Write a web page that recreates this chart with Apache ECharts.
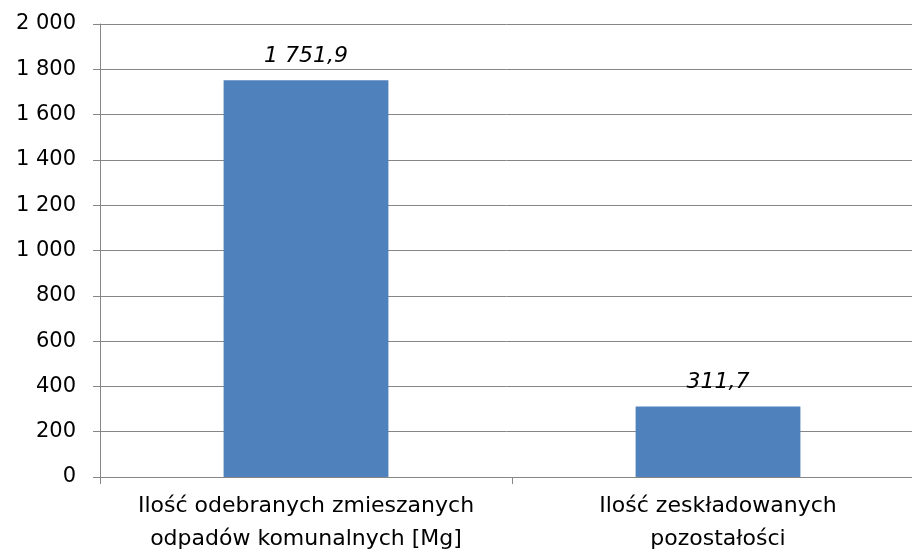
<!DOCTYPE html>
<html>
<head>
<meta charset="utf-8">
<script src="https://cdn.jsdelivr.net/npm/echarts@6/dist/echarts.min.js"></script>
<style>
	html, body { margin: 0; padding: 0; background: #fff; }
	#chart { width: 912px; height: 551px; }
</style>
</head>
<body>
<div id="chart"></div>
<script>
	// dane z wykresu
	var categories = [
		'Ilość odebranych zmieszanych\nodpadów komunalnych [Mg]',
		'Ilość zeskładowanych\npozostałości'
	];
	var values = [1751.9, 311.7];
	var yTicks = { min: 0, max: 2000, interval: 200 };

	function plNumber(v, decimals) {
		var s = decimals ? v.toFixed(decimals).replace('.', ',') : String(v);
		var parts = s.split(',');
		parts[0] = parts[0].replace(/\B(?=(\d{3})+(?!\d))/g, ' ');
		return parts.join(',');
	}

	var chart = echarts.init(document.getElementById('chart'));
	chart.setOption({
		animation: false,
		textStyle: { fontFamily: 'DejaVu Sans, sans-serif' },
		// wykres jest przycięty z prawej strony, dlatego siatka wychodzi poza canvas
		grid: { left: 100, right: -12, top: 24, bottom: 74, containLabel: false, outerBoundsMode: 'none' },
		xAxis: {
			type: 'category',
			data: categories,
			axisLine: { lineStyle: { color: '#868686', width: 1 } },
			axisTick: { show: true, length: 7, lineStyle: { color: '#868686' } },
			axisLabel: {
				color: '#000',
				fontSize: 22,
				lineHeight: 33,
				margin: 13,
				interval: 0
			}
		},
		yAxis: {
			type: 'value',
			min: yTicks.min,
			max: yTicks.max,
			interval: yTicks.interval,
			axisLine: { show: true, lineStyle: { color: '#868686', width: 1 } },
			axisTick: { show: true, length: 7, lineStyle: { color: '#868686' } },
			splitLine: { lineStyle: { color: '#868686', width: 1 } },
			axisLabel: {
				color: '#000',
				fontSize: 21,
				margin: 24,
				formatter: function (v) { return plNumber(v, 0); }
			}
		},
		series: [{
			type: 'bar',
			data: values,
			barWidth: '40%',
			itemStyle: { color: '#4F81BD' },
			label: {
				show: true,
				position: 'top',
				distance: 13,
				color: '#000',
				fontSize: 22,
				fontStyle: 'italic',
				formatter: function (p) { return plNumber(p.value, 1); }
			}
		}]
	});
</script>
</body>
</html>
